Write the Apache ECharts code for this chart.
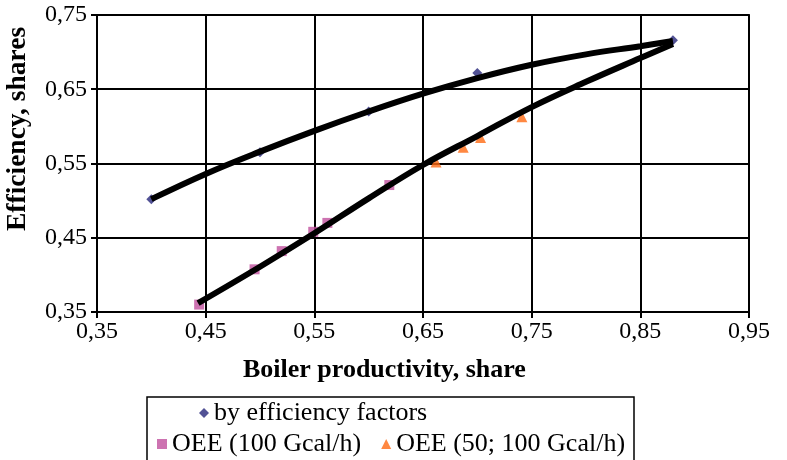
<!DOCTYPE html>
<html>
<head>
<meta charset="utf-8">
<script src="https://cdn.jsdelivr.net/npm/echarts@6/dist/echarts.min.js"></script>
<style>html,body{margin:0;padding:0;background:#fff}#c{width:787px;height:460px}</style>
</head>
<body>
<div id="c"></div>
<script>
// Series: by efficiency factors
const effX = [0.40, 0.50, 0.60, 0.70, 0.88];
const effY = [0.502, 0.565, 0.620, 0.672, 0.716];
// Series: OEE (100 Gcal/h)
const oee100X = [0.444, 0.495, 0.520, 0.549, 0.562, 0.619];
const oee100Y = [0.360, 0.4075, 0.432, 0.458, 0.470, 0.521];
// Series: OEE (50; 100 Gcal/h)
const oee50X = [0.662, 0.687, 0.703, 0.741];
const oee50Y = [0.552, 0.572, 0.585, 0.613];
// Trend line (upper)
const trendUpX = [0.40, 0.45, 0.50, 0.55, 0.60, 0.65, 0.70, 0.75, 0.80, 0.85, 0.88];
const trendUpY = [0.502, 0.536, 0.566, 0.594, 0.620, 0.644, 0.665, 0.683, 0.697, 0.708, 0.715];
// Trend line (lower)
const trendLoX = [0.443, 0.50, 0.55, 0.60, 0.65, 0.70, 0.75, 0.80, 0.85, 0.88];
const trendLoY = [0.362, 0.411, 0.456, 0.503, 0.548, 0.587, 0.626, 0.660, 0.692, 0.711];
// Axis
const xMin = 0.35, xMax = 0.95, xStep = 0.1;
const yMin = 0.35, yMax = 0.75, yStep = 0.1;
const xTitle = 'Boiler productivity, share';
const yTitle = 'Efficiency, shares';
const names = ['by efficiency factors', 'OEE (100 Gcal/h)', 'OEE (50; 100 Gcal/h)'];

const zip = (a, b) => a.map((v, i) => [v, b[i]]);
const serif = "'Liberation Serif', 'Times New Roman', serif";
const fmt = v => v.toFixed(2).replace('.', ',');

const chart = echarts.init(document.getElementById('c'), null, {renderer: 'canvas'});
chart.setOption({
  animation: false,
  backgroundColor: '#fff',
  grid: {left: 97, right: 38, top: 15, bottom: 148, show: true, borderColor: '#222', borderWidth: 2, backgroundColor: 'transparent'},
  xAxis: {
    type: 'value', min: xMin, max: xMax, interval: xStep,
    axisLine: {show: true, onZero: false, lineStyle: {color: '#000', width: 2}},
    axisTick: {show: true, inside: false, length: 6, lineStyle: {color: '#000', width: 2}},
    axisLabel: {formatter: fmt, fontFamily: serif, fontSize: 24, color: '#000', margin: 8},
    splitLine: {show: true, lineStyle: {color: '#000', width: 2}}
  },
  yAxis: {
    type: 'value', min: yMin, max: yMax, interval: yStep,
    axisLine: {show: true, onZero: false, lineStyle: {color: '#000', width: 2}},
    axisTick: {show: true, inside: false, length: 6, lineStyle: {color: '#000', width: 2}},
    axisLabel: {formatter: fmt, fontFamily: serif, fontSize: 24, color: '#000', margin: 10},
    splitLine: {show: true, lineStyle: {color: '#000', width: 2}}
  },
  graphic: [
    {type: 'text', left: 243, top: 357, style: {text: xTitle, font: "bold 26px 'Liberation Serif', 'Times New Roman', serif", fill: '#000'}},
    {type: 'text', x: 4, y: 231, rotation: Math.PI / 2, style: {text: yTitle, font: "bold 27.5px 'Liberation Serif', 'Times New Roman', serif", fill: '#000', textVerticalAlign: 'top'}},
    {type: 'rect', shape: {x: 147, y: 397, width: 487, height: 90}, style: {fill: 'none', stroke: '#000', lineWidth: 1.5}}
  ],
  legend: [
    {data: [{name: names[0], icon: 'diamond'}], left: 199, top: 400, itemWidth: 10, itemHeight: 10, padding: 0,
     textStyle: {fontFamily: serif, fontSize: 26, color: '#000'}},
    {data: [{name: names[1], icon: 'rect'}, {name: names[2], icon: 'triangle'}], left: 157, top: 431, itemWidth: 10, itemHeight: 10, itemGap: 20, padding: 0,
     textStyle: {fontFamily: serif, fontSize: 26, color: '#000'}}
  ],
  series: [
    {name: names[0], type: 'scatter', symbol: 'diamond', symbolSize: 10, itemStyle: {color: '#27277A'}, data: zip(effX, effY), z: 2},
    {name: names[1], type: 'scatter', symbol: 'rect', symbolSize: 10, itemStyle: {color: '#C0509E'}, data: zip(oee100X, oee100Y), z: 2},
    {name: names[2], type: 'scatter', symbol: 'triangle', symbolSize: 11, itemStyle: {color: '#FF6A13'}, data: zip(oee50X, oee50Y), z: 2},
    {name: 'trend1', type: 'line', smooth: 0.4, showSymbol: false, symbol: 'none', lineStyle: {color: '#000', width: 6}, data: zip(trendUpX, trendUpY), z: 5},
    {name: 'trend2', type: 'line', smooth: 0.4, showSymbol: false, symbol: 'none', lineStyle: {color: '#000', width: 6}, data: zip(trendLoX, trendLoY), z: 5}
  ]
});
</script>
</body>
</html>
